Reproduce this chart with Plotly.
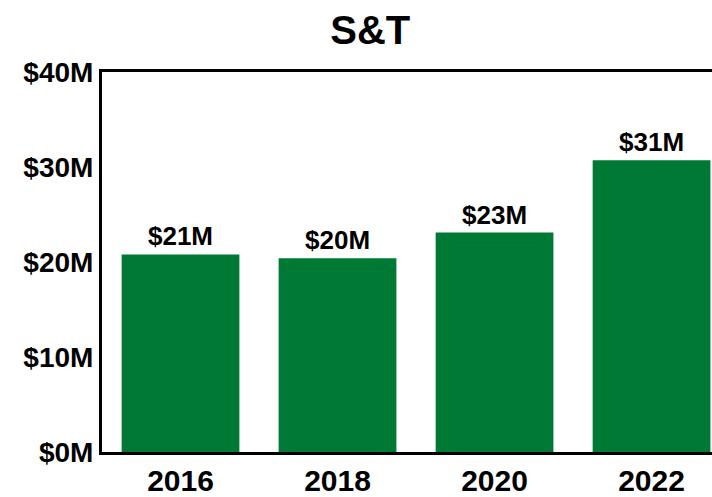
import plotly.graph_objects as go

# S&T spending by year, in millions of dollars
years = ["2016", "2018", "2020", "2022"]
spending_musd = [20.8, 20.4, 23.1, 30.7]
y_tick_values = [0, 10, 20, 30, 40]
y_tick_labels = ["$0M", "$10M", "$20M", "$30M", "$40M"]

BAR_GREEN = "#007934"
FONT = "Liberation Sans, Arial, sans-serif"

fig = go.Figure(
    go.Bar(
        x=years,
        y=spending_musd,
        marker=dict(color=BAR_GREEN, line=dict(width=0)),
        texttemplate="<b>$%{y:.0f}M</b>",
        textposition="outside",
        textfont=dict(family=FONT, size=26, color="black"),
        cliponaxis=False,
    )
)

fig.update_layout(
    width=712,
    height=497,
    margin=dict(l=102, r=0, t=72, b=39),
    paper_bgcolor="white",
    plot_bgcolor="white",
    bargap=0.25,
    showlegend=False,
    title=dict(
        text="<b>S&T</b>",
        x=0.52,
        xanchor="center",
        y=0.94,
        yanchor="middle",
        font=dict(family=FONT, size=40, color="black"),
    ),
    font=dict(family=FONT, color="black"),
)

fig.update_xaxes(
    type="category",
    range=[-0.5, 3.385],
    showline=True,
    linecolor="black",
    linewidth=3,
    mirror=True,
    showgrid=False,
    ticks="",
    tickfont=dict(family=FONT, size=30, color="black"),
    tickprefix="<b>",
    ticksuffix="</b>",
)

fig.update_yaxes(
    range=[0, 40],
    tickvals=y_tick_values,
    ticktext=["<b>" + t + "</b>" for t in y_tick_labels],
    showline=True,
    linecolor="black",
    linewidth=3,
    showgrid=False,
    zeroline=False,
    ticks="",
    tickfont=dict(family=FONT, size=28, color="black"),
)

fig.write_html("out.html")
